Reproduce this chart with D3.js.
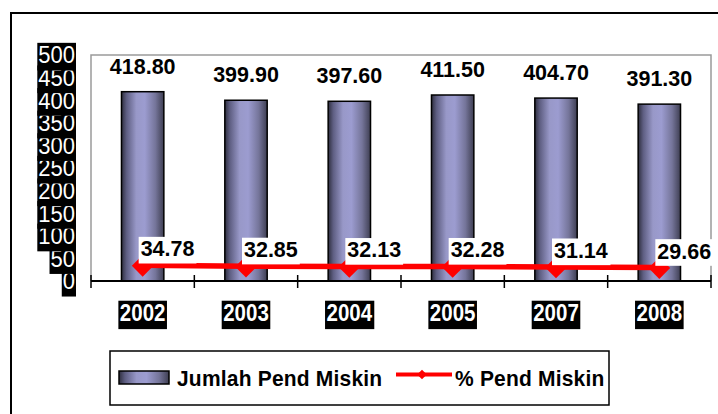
<!DOCTYPE html>
<html><head><meta charset="utf-8">
<script src="https://cdn.jsdelivr.net/npm/d3@7/dist/d3.min.js"></script>
<style>html,body{margin:0;padding:0;background:#fff;overflow:hidden}</style>
</head><body>
<svg id="c" width="718" height="414"></svg>
<script>
const years = ["2002","2003","2004","2005","2007","2008"];
const jumlahPendMiskin = [418.80, 399.90, 397.60, 411.50, 404.70, 391.30];
const persenPendMiskin = [34.78, 32.85, 32.13, 32.28, 31.14, 29.66];
const yTicks = [0,50,100,150,200,250,300,350,400,450,500];
const seriesNames = ["Jumlah Pend Miskin", "% Pend Miskin"];

const svg = d3.select("#c");
const FONT = "'Liberation Sans', Arial, sans-serif";
const L = 91, R = 711, T = 55, B = 281;

const defs = svg.append("defs");
const g = defs.append("linearGradient").attr("id","cyl").attr("x1","0").attr("x2","1").attr("y1","0").attr("y2","0");
[["0%","#2e2e3e"],["12%","#5e5e82"],["35%","#9898c8"],["55%","#9c9cd0"],["80%","#75759a"],["100%","#3e3e52"]]
  .forEach(([o,c])=>g.append("stop").attr("offset",o).attr("stop-color",c));

// outer border
svg.append("rect").attr("x",11).attr("y",13).attr("width",740).attr("height",440)
  .attr("fill","#fff").attr("stroke","#000").attr("stroke-width",2);

const x = d3.scaleBand().domain(years).range([L,R]).padding(0);
const y = d3.scaleLinear().domain([0,500]).range([B,T]);
const cx = d=>x(d)+x.bandwidth()/2;

// plot area border (gray)
svg.append("path").attr("d",`M${L},${B}V${T}H${R}V${B}`).attr("fill","none")
  .attr("stroke","#9a9a9a").attr("stroke-width",1.5);

// y labels: white text on black boxes
yTicks.forEach(v=>{
  const gg = svg.append("g").attr("transform",`translate(76,${y(v)}) scale(1,1.05)`);
  const t = gg.append("text").attr("x",-1).attr("y",0).attr("dy","0.36em")
    .attr("text-anchor","end").attr("font-family",FONT).attr("font-size",22)
    .attr("fill","#fff").text(v);
  const bb = t.node().getBBox();
  gg.insert("rect","text").attr("x",bb.x-1).attr("y",bb.y).attr("width",bb.width+2).attr("height",bb.height+2).attr("fill","#000");
});

// bars
const bw = x.bandwidth()*0.41;
svg.append("g").selectAll("rect").data(years).join("rect")
  .attr("x",d=>cx(d)-bw/2)
  .attr("y",(d,i)=>y(jumlahPendMiskin[i]))
  .attr("width",bw)
  .attr("height",(d,i)=>B-y(jumlahPendMiskin[i]))
  .attr("fill","url(#cyl)").attr("stroke","#000").attr("stroke-width",1.5);

// bar value labels
svg.append("g").selectAll("text").data(years).join("text")
  .attr("transform",(d,i)=>`translate(${cx(d)},${y(jumlahPendMiskin[i])-18}) scale(1,1.05)`)
  .attr("text-anchor","middle").attr("font-family",FONT).attr("font-weight","bold")
  .attr("font-size",21.5).attr("fill","#000")
  .text((d,i)=>jumlahPendMiskin[i].toFixed(2));

// x axis line + ticks
const ax = svg.append("g");
ax.append("line").attr("x1",L).attr("x2",R).attr("y1",B).attr("y2",B).attr("stroke","#000").attr("stroke-width",2);
d3.range(years.length+1).forEach(i=>{
  const xx = L + i*x.step();
  ax.append("line").attr("x1",xx).attr("x2",xx).attr("y1",275).attr("y2",288).attr("stroke","#000").attr("stroke-width",1.5);
});

// x labels: white bold on black
years.forEach(d=>{
  const gg = svg.append("g").attr("transform",`translate(${cx(d)},313) scale(1,1.15)`);
  const t = gg.append("text").attr("x",0).attr("y",0).attr("dy","0.36em")
    .attr("text-anchor","middle").attr("font-family",FONT).attr("font-weight","bold")
    .attr("font-size",20.5).attr("fill","#fff").text(d);
  const bb = t.node().getBBox();
  gg.insert("rect","text").attr("x",bb.x-1.5).attr("y",bb.y+0.5).attr("width",bb.width+3).attr("height",bb.height+1.5).attr("fill","#000");
});

// line series
const line = d3.line().x(d=>cx(d)).y((d,i)=>y(persenPendMiskin[i]));
svg.append("path").datum(years).attr("d",line).attr("fill","none").attr("stroke","#ff0000").attr("stroke-width",5.5);
const diamond = d3.symbol().type(d3.symbolDiamond2).size(300);
svg.append("g").selectAll("path").data(years).join("path")
  .attr("transform",(d,i)=>`translate(${cx(d)},${y(persenPendMiskin[i])+0.5})`)
  .attr("d",diamond).attr("fill","#ff0000");

// line labels with white boxes
years.forEach((d,i)=>{
  const gg = svg.append("g").attr("transform",`translate(${cx(d)-2},${y(persenPendMiskin[i])-9}) scale(1,1.05)`);
  const t = gg.append("text").attr("x",0).attr("y",0)
    .attr("font-family",FONT).attr("font-weight","bold").attr("font-size",21.5).attr("fill","#000")
    .text(persenPendMiskin[i].toFixed(2));
  const bb = t.node().getBBox();
  gg.insert("rect","text").attr("x",bb.x-2).attr("y",bb.y+1).attr("width",bb.width+4).attr("height",bb.height+1).attr("fill","#fff");
});

// legend
const lg = svg.append("g");
lg.append("rect").attr("x",110).attr("y",351).attr("width",499).attr("height",54)
  .attr("fill","#fff").attr("stroke","#000").attr("stroke-width",1.5);
lg.append("rect").attr("x",119).attr("y",371).attr("width",50).attr("height",13)
  .attr("fill","url(#cyl)").attr("stroke","#000").attr("stroke-width",1.5);
lg.append("text").attr("transform","translate(177,385.5) scale(1,1.05)").attr("font-family",FONT).attr("font-weight","bold")
  .attr("font-size",21).attr("letter-spacing",0.2).text(seriesNames[0]);
lg.append("line").attr("x1",396).attr("x2",452).attr("y1",374.5).attr("y2",374.5).attr("stroke","#ff0000").attr("stroke-width",4);
lg.append("path").attr("transform","translate(422,374.5)").attr("d",d3.symbol().type(d3.symbolDiamond2).size(60)).attr("fill","#ff0000");
lg.append("text").attr("transform","translate(455,385.5) scale(1,1.05)").attr("font-family",FONT).attr("font-weight","bold")
  .attr("font-size",21).attr("letter-spacing",0.2).text(seriesNames[1]);
</script>
</body></html>
